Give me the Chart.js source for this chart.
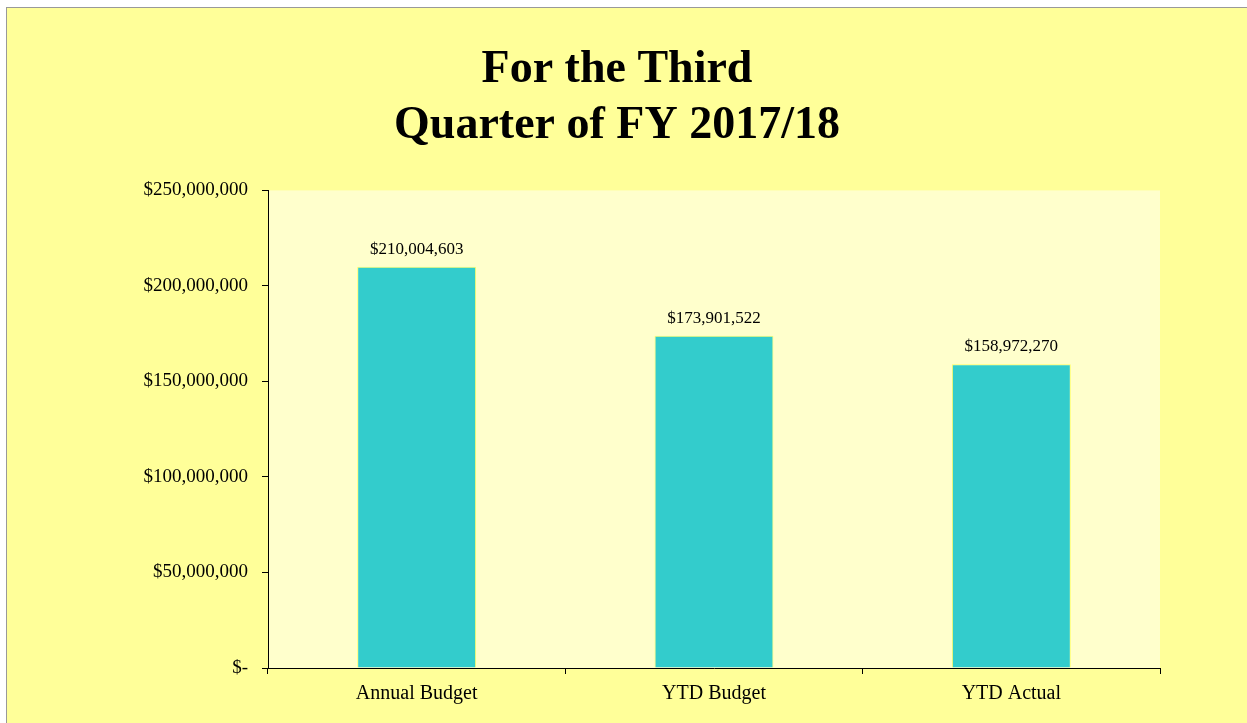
<!DOCTYPE html>
<html>
<head>
<meta charset="utf-8">
<script src="https://cdn.jsdelivr.net/npm/chart.js@4/dist/chart.umd.min.js"></script>
<style>
  html, body { margin: 0; padding: 0; background: #ffffff; }
  #frame {
    position: absolute; left: 6px; top: 7px;
    width: 1240px; height: 715px;
    border-left: 1px solid #999999; border-top: 1px solid #999999;
    background: #FFFF99;
  }
  #chart { display: block; }
</style>
</head>
<body>
<div id="frame"><canvas id="chart" width="1240" height="715"></canvas></div>
<script>
// values
const categories = ['Annual Budget', 'YTD Budget', 'YTD Actual'];
const amounts = [210004603, 173901522, 158972270];
const titleLines = ['For the Third', 'Quarter of FY 2017/18'];
const yTicks = [0, 50000000, 100000000, 150000000, 200000000, 250000000];

const serif = "'Liberation Serif', 'Times New Roman', serif";

function money(v) {
    if (v === 0) return '$-';
    return '$' + v.toLocaleString('en-US');
}

// pale plot background
const plotBg = {
    id: 'plotBg',
    beforeDraw(chart) {
        const a = chart.chartArea, ctx = chart.ctx;
        ctx.save();
        ctx.fillStyle = '#FFFFCC';
        ctx.fillRect(a.left, a.top, a.right - a.left, a.bottom - a.top);
        ctx.restore();
    }
};

// value labels over bars
const barLabels = {
    id: 'barLabels',
    afterDatasetsDraw(chart) {
        const ctx = chart.ctx;
        const meta = chart.getDatasetMeta(0);
        ctx.save();
        ctx.font = '17px ' + serif;
        ctx.fillStyle = '#000000';
        ctx.textAlign = 'center';
        ctx.textBaseline = 'bottom';
        meta.data.forEach((bar, i) => {
            ctx.fillText(money(amounts[i]), bar.x, bar.y - 9);
        });
        ctx.restore();
    }
};

new Chart(document.getElementById('chart'), {
    type: 'bar',
    data: {
        labels: categories,
        datasets: [{
            data: amounts,
            backgroundColor: '#33CCCC',
            borderColor: '#FFFF66',
            borderWidth: 1,
            categoryPercentage: 1,
            barPercentage: 0.4
        }]
    },
    options: {
        responsive: false,
        animation: false,
        layout: { padding: { left: 67, right: 87, bottom: 9 } },
        plugins: {
            legend: { display: false },
            tooltip: { enabled: false },
            title: {
                display: true,
                text: titleLines,
                color: '#000000',
                font: { family: serif, size: 46, weight: 'bold', lineHeight: 1.2 },
                padding: { top: 35, bottom: 37 }
            }
        },
        scales: {
            x: {
                grid: { drawOnChartArea: false, tickLength: 6, color: '#000000', offset: true },
                border: { color: '#000000', width: 1 },
                ticks: { color: '#000000', font: { family: serif, size: 20 }, padding: 8 }
            },
            y: {
                min: 0,
                max: 250000000,
                afterBuildTicks(scale) { scale.ticks = yTicks.map(v => ({ value: v })); },
                afterFit(scale) { scale.width = 194; },
                grid: { drawOnChartArea: false, tickLength: 6, color: '#000000' },
                border: { color: '#000000', width: 1 },
                ticks: {
                    color: '#000000',
                    font: { family: serif, size: 19 },
                    padding: 14,
                    callback: v => money(v)
                }
            }
        }
    },
    plugins: [plotBg, barLabels]
});
</script>
</body>
</html>
